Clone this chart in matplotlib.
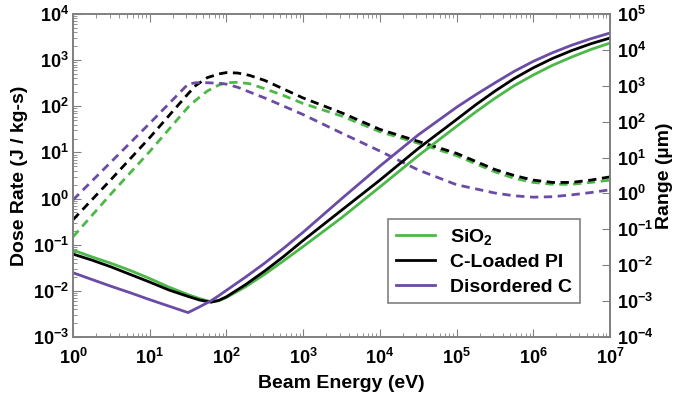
import matplotlib
matplotlib.use("Agg")
import matplotlib.pyplot as plt
import numpy as np
from matplotlib.ticker import LogLocator, NullLocator, FixedLocator

# log10(beam energy, eV) and log10 values
log_e_dose = [0, 0.5, 1.0, 1.5, 1.6, 1.75, 1.9, 2.0, 2.15, 2.3, 2.5, 2.75, 3.0, 3.5, 4.0, 4.5, 5.0,
              5.5, 5.75, 6.0, 6.25, 6.5, 6.75, 7.0]
dose_sio2 = [-0.83, 0.11, 1.02, 1.98, 2.13, 2.33, 2.46, 2.51, 2.52, 2.49, 2.38, 2.23, 2.06, 1.79, 1.45, 1.20, 0.93,
             0.58, 0.44, 0.35, 0.31, 0.31, 0.35, 0.40]
dose_cpi = [-0.46, 0.42, 1.32, 2.27, 2.45, 2.62, 2.70, 2.73, 2.72, 2.67, 2.56, 2.37, 2.18, 1.86, 1.50, 1.24, 0.98,
            0.63, 0.50, 0.40, 0.35, 0.35, 0.40, 0.47]
dose_dc = [-0.03, 0.80, 1.63, 2.48, 2.51, 2.51, 2.50, 2.48, 2.41, 2.31, 2.18, 2.00, 1.82, 1.42, 1.03, 0.62, 0.30,
           0.12, 0.06, 0.03, 0.04, 0.08, 0.13, 0.19]

log_e_range = [0, 0.25, 0.5, 0.75, 1.0, 1.25, 1.5, 1.65, 1.8, 1.9, 2.0, 2.25, 2.5, 2.75, 3.0, 3.5, 4.0, 4.5,
               5.0, 5.25, 5.5, 5.75, 6.0, 6.25, 6.5, 6.75, 7.0]
range_sio2 = [-1.58, -1.77, -1.95, -2.15, -2.37, -2.61, -2.82, -2.93, -3.02, -2.99, -2.90, -2.60, -2.25, -1.87, -1.48,
              -0.68, 0.18, 1.05, 1.87, 2.27, 2.65, 3.00, 3.30, 3.57, 3.80, 4.01, 4.19]
range_cpi = [-1.69, -1.86, -2.05, -2.26, -2.47, -2.69, -2.87, -2.97, -3.03, -2.98, -2.88, -2.54, -2.16, -1.75, -1.31,
             -0.47, 0.37, 1.25, 2.06, 2.47, 2.85, 3.20, 3.50, 3.76, 3.98, 4.17, 4.33]
range_dc = [-2.21, -2.40, -2.59, -2.77, -2.96, -3.14, -3.32, -3.16, -2.99, -2.85, -2.70, -2.33, -1.94, -1.52, -1.08,
            -0.15, 0.76, 1.63, 2.40, 2.75, 3.08, 3.40, 3.68, 3.92, 4.13, 4.31, 4.47]

labels = ["SiO$_2$", "C-Loaded PI", "Disordered C"]
colors = ["#4cb848", "black", "#6a4ba6"]

plt.rcParams["font.family"] = "Liberation Sans"
plt.rcParams["font.weight"] = "bold"
plt.rcParams["mathtext.fontset"] = "custom"
plt.rcParams["mathtext.rm"] = "Liberation Sans:bold"
plt.rcParams["mathtext.it"] = "Liberation Sans:bold"
plt.rcParams["mathtext.bf"] = "Liberation Sans:bold"

fig = plt.figure(figsize=(6.74, 4.03), dpi=100)
ax = fig.add_axes([0.1083, 0.1638, 0.7967, 0.8015])
ax2 = ax.twinx()

e_dose = 10.0 ** np.array(log_e_dose)
e_range = 10.0 ** np.array(log_e_range)
for dose, rng, color, label in zip([dose_sio2, dose_cpi, dose_dc], [range_sio2, range_cpi, range_dc], colors, labels):
    ax.plot(e_dose, 10.0 ** np.array(dose), color=color, linewidth=2.0, dashes=(3, 2))
    ax2.plot(e_range, 10.0 ** np.array(rng), color=color, linewidth=2.0, label=label)

ax.set_xscale("log")
ax.set_yscale("log")
ax2.set_yscale("log")
ax.set_xlim(1, 1e7)
ax.set_ylim(1e-3, 1e4)
ax2.set_ylim(1e-4, 1e5)

ax.xaxis.set_major_locator(FixedLocator(10.0 ** np.arange(0, 8)))
ax.yaxis.set_major_locator(FixedLocator(10.0 ** np.arange(-3, 5)))
ax2.yaxis.set_major_locator(FixedLocator(10.0 ** np.arange(-4, 6)))
ax.xaxis.set_minor_locator(LogLocator(base=10, subs=np.arange(2, 10), numticks=20))
ax.yaxis.set_minor_locator(LogLocator(base=10, subs=np.arange(2, 10), numticks=20))
ax2.yaxis.set_minor_locator(NullLocator())

ax.tick_params(which="both", direction="in", top=True, labelsize=13, color="#808080")
ax.tick_params(axis="y", pad=3)
ax.tick_params(axis="x", pad=8)
ax.tick_params(which="major", length=6)
ax.tick_params(which="minor", length=3)
ax2.tick_params(which="both", direction="in", labelsize=13, color="#808080", length=6, pad=5)

for spine in list(ax.spines.values()) + list(ax2.spines.values()):
    spine.set_color("#808080")
    spine.set_linewidth(1.2)

ax.set_xlabel("Beam Energy (eV)", fontsize=14, fontweight="bold", labelpad=5)
ax.set_ylabel("Dose Rate (J / kg-s)", fontsize=14, fontweight="bold", labelpad=3)
ax2.set_ylabel("Range (\u00b5m)", fontsize=14, fontweight="bold", labelpad=2)

leg = ax2.legend(loc="upper left", bbox_to_anchor=(0.587, 0.365), borderaxespad=0, fontsize=14, fancybox=False,
                 handlelength=2.0, borderpad=0.4, labelspacing=0.35, handletextpad=0.8)
leg.get_frame().set_edgecolor("#606060")
leg.get_frame().set_linewidth(1.2)

fig.savefig("out.png", dpi=100)
